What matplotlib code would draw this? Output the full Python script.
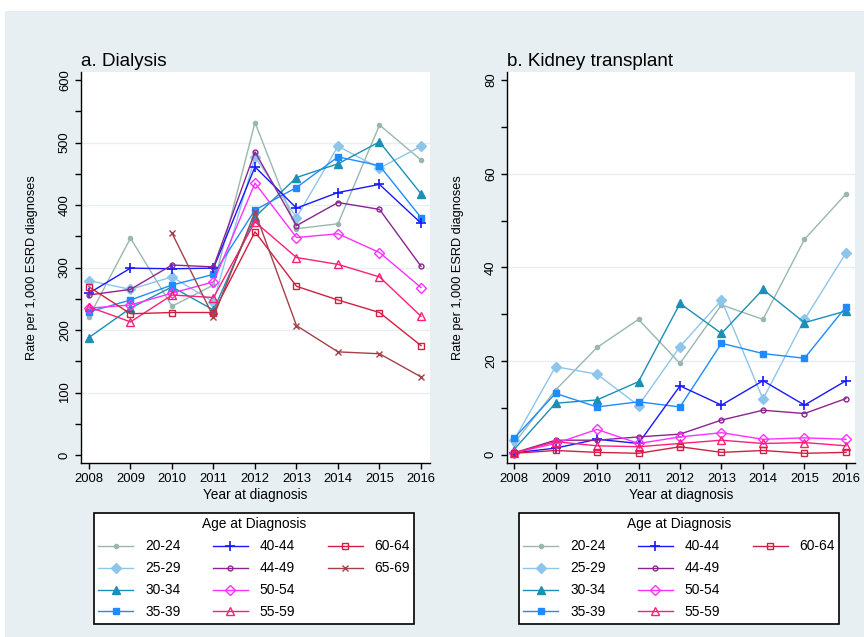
import numpy as np
import matplotlib
matplotlib.use("Agg")
import matplotlib.pyplot as plt
from matplotlib.patches import Rectangle
from matplotlib.lines import Line2D
from matplotlib.ticker import MultipleLocator

plt.rcParams['font.family'] = ['Liberation Sans', 'DejaVu Sans']

years = [2008, 2009, 2010, 2011, 2012, 2013, 2014, 2015, 2016]
age_groups = ["20-24", "25-29", "30-34", "35-39", "40-44", "44-49",
              "50-54", "55-59", "60-64", "65-69"]

# Panel a: Dialysis (rate per 1,000 ESRD diagnoses)
dial_20_24 = [221, 347, 238, 272, 532, 362, 370, 528, 472]
dial_25_29 = [279, 265, 285, 245, 477, 380, 494, 459, 494]
dial_30_34 = [188, 235, 269, 232, 381, 444, 466, 501, 418]
dial_35_39 = [229, 248, 272, 289, 392, 428, 477, 463, 380]
dial_40_44 = [259, 299, 298, 299, 461, 395, 420, 433, 371]
dial_44_49 = [256, 265, 304, 301, 485, 367, 404, 393, 302]
dial_50_54 = [235, 240, 259, 277, 435, 348, 354, 324, 268]
dial_55_59 = [237, 213, 256, 252, 373, 316, 305, 285, 222]
dial_60_64 = [269, 226, 228, 228, 357, 270, 248, 228, 175]
dial_65_69 = [np.nan, np.nan, 355, 221, 389, 207, 165, 162, 125]

# Panel b: Kidney transplant (rate per 1,000 ESRD diagnoses)
tx_20_24 = [2.4, 13.8, 22.9, 28.9, 19.5, 32.0, 28.9, 46.0, 55.7]
tx_25_29 = [3.1, 18.8, 17.2, 10.5, 23.1, 33.0, 11.9, 28.9, 43.1]
tx_30_34 = [1.1, 11.0, 11.7, 15.6, 32.3, 25.9, 35.3, 28.2, 30.7]
tx_35_39 = [3.5, 13.1, 10.2, 11.3, 10.2, 23.8, 21.6, 20.6, 31.6]
tx_40_44 = [0.4, 1.4, 3.3, 2.4, 14.7, 10.6, 15.8, 10.6, 15.8]
tx_44_49 = [0.4, 3.1, 3.1, 3.8, 4.4, 7.4, 9.5, 8.8, 12.0]
tx_50_54 = [0.4, 2.4, 5.4, 2.4, 3.8, 4.7, 3.3, 3.6, 3.3]
tx_55_59 = [0.4, 2.8, 1.9, 1.7, 2.4, 3.1, 2.4, 2.6, 1.9]
tx_60_64 = [0.3, 0.9, 0.5, 0.3, 1.7, 0.5, 0.9, 0.3, 0.5]

dialysis = [dial_20_24, dial_25_29, dial_30_34, dial_35_39, dial_40_44,
            dial_44_49, dial_50_54, dial_55_59, dial_60_64, dial_65_69]
transplant = [tx_20_24, tx_25_29, tx_30_34, tx_35_39, tx_40_44,
              tx_44_49, tx_50_54, tx_55_59, tx_60_64]

styles = [
    dict(color='#98b8ae', marker='o', ms=3.0, mfc='#98b8ae'),
    dict(color='#8ec5ea', marker='D', ms=5.0, mfc='#8ec5ea'),
    dict(color='#1b8fb5', marker='^', ms=6.0, mfc='#1b8fb5'),
    dict(color='#1e8cff', marker='s', ms=5.0, mfc='#1e8cff'),
    dict(color='#1818ff', marker='+', ms=6.5, mfc='#1818ff', mew=1.2),
    dict(color='#8b2590', marker='o', ms=3.5, mfc='none'),
    dict(color='#ff30ff', marker='D', ms=5.5, mfc='none'),
    dict(color='#ff1f78', marker='^', ms=6.0, mfc='none'),
    dict(color='#d0203f', marker='s', ms=5.0, mfc='none'),
    dict(color='#a5404a', marker='x', ms=4.0, mfc='none'),
]

W, H = 864, 637
fig = plt.figure(figsize=(W / 100, H / 100), dpi=100, facecolor='white')
bg = '#e8eff2'
fig.patches.append(Rectangle((5 / W, 0), 1 - 5 / W, (H - 11) / H,
                             transform=fig.transFigure, facecolor=bg,
                             edgecolor='none', zorder=-10))


def px_axes(left, top, right, bottom):
    return fig.add_axes([left / W, (H - bottom) / H, (right - left) / W,
                         (bottom - top) / H])


axA = px_axes(80.7, 71.7, 430, 463)
axB = px_axes(506.7, 71.7, 855, 463)

TICK_FS = 9.4
LAB_FS = 9.2


def style_axes(ax, title):
    ax.set_facecolor('white')
    for s in ['top', 'right']:
        ax.spines[s].set_visible(False)
    for s in ['left', 'bottom']:
        ax.spines[s].set_color('black')
        ax.spines[s].set_linewidth(1.0)
    ax.set_xticks(years)
    ax.set_xticklabels([str(y) for y in years])
    ax.tick_params(axis='both', which='both', direction='out', colors='black',
                   labelsize=TICK_FS, length=4.5, width=1.0, pad=2.5)
    ax.tick_params(axis='y', which='minor', length=4.5)
    for lab in ax.get_yticklabels():
        lab.set_rotation(90)
        lab.set_va('center')
    ax.set_xlabel('Year at diagnosis', fontsize=9.8, labelpad=2)
    ax.set_ylabel('Rate per 1,000 ESRD diagnoses', fontsize=LAB_FS,
                  labelpad=15)
    ax.set_title(title, loc='left', fontsize=13.6, pad=4, x=0.0)


# Panel a
for vals, st in zip(dialysis, styles):
    axA.plot(years, vals, lw=1.0, color=st['color'], marker=st['marker'],
             ms=st['ms'], mfc=st['mfc'], mec=st['color'],
             mew=st.get('mew', 1.0), zorder=3)
axA.set_xlim(2007.8, 2016.217)
axA.set_ylim(-12.8, 613.3)
axA.yaxis.set_major_locator(MultipleLocator(100))
axA.yaxis.set_minor_locator(MultipleLocator(50))
for g in [100, 200, 300, 400, 500]:
    axA.axhline(g, color='#e6eff1', lw=1.0, zorder=0)
style_axes(axA, 'a. Dialysis')

# Panel b
for vals, st in zip(transplant, styles):
    axB.plot(years, vals, lw=1.0, color=st['color'], marker=st['marker'],
             ms=st['ms'], mfc=st['mfc'], mec=st['color'],
             mew=st.get('mew', 1.0), zorder=3)
axB.set_xlim(2007.824, 2016.217)
axB.set_ylim(-1.77, 81.8)
axB.yaxis.set_major_locator(MultipleLocator(20))
axB.yaxis.set_minor_locator(MultipleLocator(10))
for g in [20, 40, 60]:
    axB.axhline(g, color='#e6eff1', lw=1.0, zorder=0)
style_axes(axB, 'b. Kidney transplant')


def make_legend(n, left, top):
    handles, labels = [], []
    for i in range(n):
        st = styles[i]
        handles.append(Line2D([], [], lw=1.0, color=st['color'],
                              marker=st['marker'], ms=st['ms'],
                              mfc=st['mfc'], mec=st['color'],
                              mew=st.get('mew', 1.0)))
        labels.append(age_groups[i])
    while len(handles) < 12:
        handles.append(Line2D([], [], lw=0, alpha=0))
        labels.append('')
    leg = fig.legend(handles, labels, ncol=3, loc='upper left',
                     bbox_to_anchor=(left / W, (H - top) / H),
                     bbox_transform=fig.transFigure,
                     title='Age at Diagnosis', title_fontsize=9.9,
                     fontsize=9.9, frameon=True, fancybox=False,
                     edgecolor='black', facecolor='white', framealpha=1,
                     handlelength=2.55, handletextpad=0.85,
                     columnspacing=2.35, labelspacing=0.58,
                     borderpad=0.32, borderaxespad=0, numpoints=1)
    leg.get_frame().set_linewidth(1.2)
    return leg


make_legend(10, 94, 513)
make_legend(9, 519, 513)

fig.savefig('out.png', dpi=100, facecolor='white')
